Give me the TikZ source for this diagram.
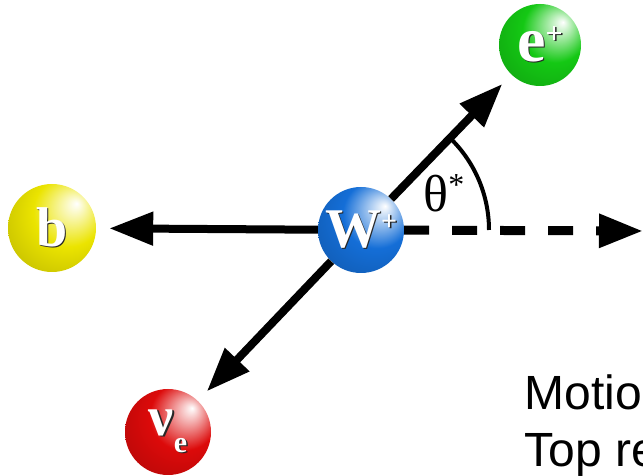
\documentclass[tikz,border=0pt]{standalone}
\usepackage{fontspec}
\setmainfont{Liberation Sans}
\newfontfamily\ballfont{Liberation Serif}
\usetikzlibrary{arrows.meta}

\definecolor{wblue}{RGB}{20,110,215}
\definecolor{egreen}{RGB}{20,200,20}
\definecolor{byellow}{RGB}{235,228,0}
\definecolor{nured}{RGB}{220,10,10}

% lit sphere, highlight at the upper right
\colorlet{particle}{wblue}
\pgfdeclareradialshading[particle]{sphere}{\pgfpoint{14bp}{14bp}}{%
  color(0bp)=(white); color(5bp)=(particle!25!white);
  color(20bp)=(particle); color(42bp)=(particle!80!black);
  color(60bp)=(particle!45!black)}

% white letters with a dark copy underneath
\newcommand\embossed[1]{\makebox[0pt][l]{\hspace{1.5pt}\raisebox{-1.5pt}{\color{black!85}#1}}#1}

\tikzset{
  ball/.style={circle, minimum size=86pt, inner sep=0pt,
    sphere color=#1, shading=sphere, text=white,
    font=\ballfont\bfseries\fontsize{56}{56}\selectfont},
  sphere color/.code={\colorlet{particle}{#1}},
  flow/.style={line width=8pt, -{Triangle[length=44pt,width=32pt]},
    shorten >=13pt},
}

\begin{document}
\begin{tikzpicture}[x=1pt,y=1pt]
    \useasboundingbox (0,0) rectangle (643,476);
    \clip (0,0) rectangle (643,476);

    % the decaying W and its products
    \node[ball=wblue] (W) at (361,246)
        {\embossed{W\raisebox{17pt}{\fontsize{28}{28}\selectfont +}}};
    \node[ball=byellow, minimum size=88pt] (b) at (52,248) {\embossed{b}};
    \node[ball=egreen, minimum size=82pt] (e) at (540,431)
        {\embossed{\fontsize{64}{64}\selectfont e\raisebox{18pt}{\fontsize{30}{30}\selectfont +}}};
    \node[ball=nured] (nu) at (168,44)
        {\embossed{ν\raisebox{-17pt}{\fontsize{30}{30}\selectfont e}}};

    % end of the dashed direction of motion
    \coordinate (edge) at (643,245);

    % momentum arrows
    \draw[flow] (W) -- (b);
    \draw[flow] (W) -- (e);
    \draw[flow] (W) -- (nu);
    \draw[line width=9pt, dash pattern=on 25pt off 23pt,
        -{Triangle[length=44pt,width=32pt]}] (W) -- (edge);

    % decay angle
    \draw[line width=4pt] (W.center) ++(128,0) arc[start angle=0, end angle=45, radius=128];
    \node[font=\ballfont\fontsize{52}{52}\selectfont] (theta) at (444,283)
        {θ\raisebox{16pt}{\fontsize{32}{32}\selectfont *}};

    % caption lines
    \node[anchor=base west, font=\fontsize{48}{48}\selectfont] (motion) at (521,66) {Motio};
    \node[anchor=base west, font=\fontsize{48}{48}\selectfont] (frame) at (521,9) {Top re};

\end{tikzpicture}
\end{document}
